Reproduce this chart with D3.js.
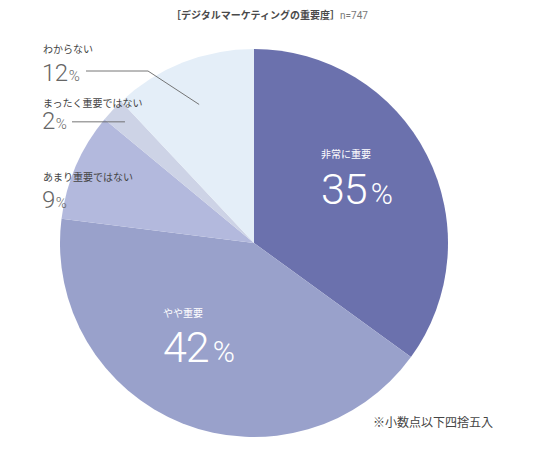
<!DOCTYPE html>
<html><head><meta charset="utf-8">
<script src="https://cdn.jsdelivr.net/npm/d3@7"></script>
<style>
body{margin:0;background:#fff;}
svg{display:block;}
</style></head>
<body>
<svg id="c" width="550" height="455"></svg>
<script>
const categories = ["非常に重要", "やや重要", "あまり重要ではない", "まったく重要ではない", "わからない"];
const values = [35, 42, 9, 2, 12];
const colors = ["#6b71ad", "#99a1cb", "#b3b9dd", "#cdd3e6", "#e4eef8"];
const title = "［デジタルマーケティングの重要度］";
const sampleNote = "n=747";
const footnote = "※小数点以下四捨五入";

const svg = d3.select("#c");
const cx = 254, cy = 243, R = 194;
const jp = "'Noto Sans CJK JP', 'Noto Sans', sans-serif";
const num = "Roboto, 'Liberation Sans', sans-serif";

const data = categories.map((c, i) => ({cat: c, value: values[i], color: colors[i]}));
const pie = d3.pie().sort(null).value(d => d.value).startAngle(0).endAngle(2 * Math.PI);
const arcs = pie(data);
const arc = d3.arc().innerRadius(0).outerRadius(R);

const g = svg.append("g").attr("transform", `translate(${cx},${cy})`);
g.selectAll("path").data(arcs).enter().append("path")
  .attr("d", arc).attr("fill", d => d.data.color);

// title
const t = svg.append("text").attr("x", 171).attr("y", 19)
  .attr("font-family", jp).attr("font-size", 10).attr("fill", "#4a4a4a");
t.append("tspan").attr("font-weight", "bold").text(title);
t.append("tspan").attr("font-family", num).attr("fill", "#777").attr("font-size", 10).text(sampleNote);

// inside labels
function inside(i, x, yLab, yNum, big, pct) {
  svg.append("text").attr("x", x).attr("y", yLab).attr("font-family", jp)
    .attr("font-size", 10).attr("fill", "#fff").text(categories[i]);
  const n = svg.append("text").attr("x", x).attr("y", yNum).attr("font-family", num)
    .attr("font-weight", 300).attr("fill", "#fff").attr("letter-spacing", -1);
  n.append("tspan").attr("font-size", big).text(values[i]);
  n.append("tspan").attr("font-size", pct).attr("dx", 4).attr("letter-spacing", 0).text("%");
}
inside(0, 321, 158, 204, 43, 30);
inside(1, 163, 317, 362, 43, 30);

// outside labels
function outside(i, yLab, yNum) {
  svg.append("text").attr("x", 43).attr("y", yLab).attr("font-family", jp)
    .attr("font-size", 10).attr("fill", "#444").text(categories[i]);
  const n = svg.append("text").attr("x", 42).attr("y", yNum).attr("font-family", num)
    .attr("font-weight", 300).attr("fill", "#666").attr("letter-spacing", -0.5);
  n.append("tspan").attr("font-size", 24).text(values[i]);
  n.append("tspan").attr("font-size", 15).attr("dx", 1).attr("letter-spacing", 0).text("%");
}
outside(4, 53, 81);
outside(3, 107, 129);
outside(2, 181, 208);

// leader lines
function midPoint(i, rr) {
  const a = (arcs[i].startAngle + arcs[i].endAngle) / 2;
  return [cx + rr * Math.sin(a), cy - rr * Math.cos(a)];
}
const p12 = midPoint(4, 149);
svg.append("polyline")
  .attr("points", `86,71 148,71 ${p12[0]},${p12[1]}`)
  .attr("fill", "none").attr("stroke", "#666").attr("stroke-width", 0.9);
const p2 = midPoint(3, 177);
svg.append("line").attr("x1", 72).attr("y1", p2[1]).attr("x2", p2[0]).attr("y2", p2[1])
  .attr("stroke", "#666").attr("stroke-width", 0.9);

// footnote
svg.append("text").attr("x", 373).attr("y", 427).attr("font-family", jp)
  .attr("font-size", 12).attr("fill", "#444").text(footnote);
</script>
</body></html>
